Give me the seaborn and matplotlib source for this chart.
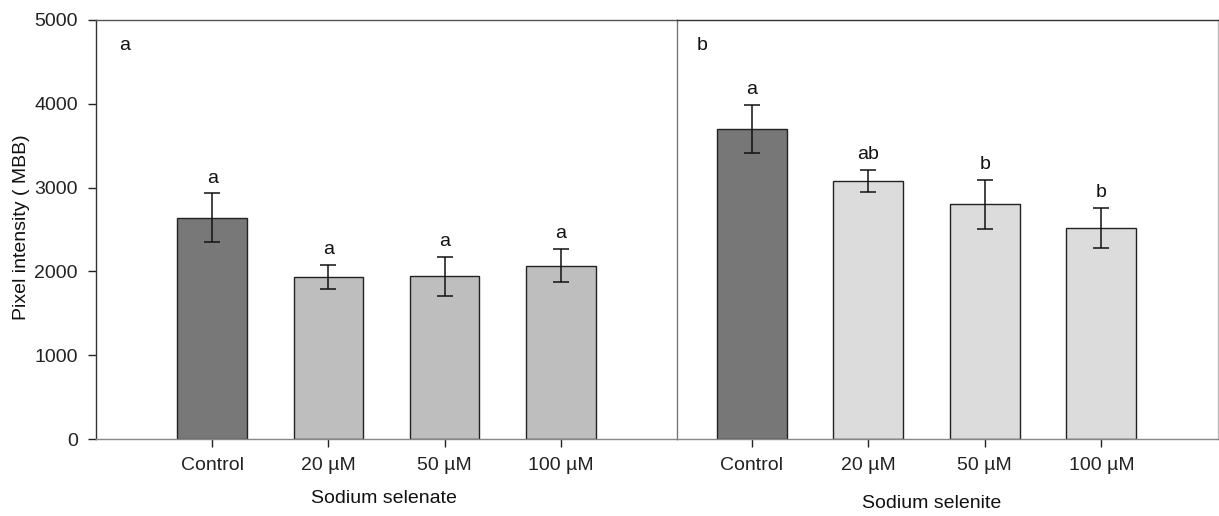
import matplotlib
matplotlib.use("Agg")
import matplotlib.pyplot as plt
import seaborn as sns
import numpy as np

categories = ["Control", "20 µM", "50 µM", "100 µM"]
selenate_mean = [2640, 1930, 1940, 2070]
selenate_se = [290, 145, 235, 195]
selenate_letters = ["a", "a", "a", "a"]
selenite_mean = [3700, 3080, 2800, 2520]
selenite_se = [285, 135, 295, 240]
selenite_letters = ["a", "ab", "b", "b"]
yticks = [0, 1000, 2000, 3000, 4000, 5000]

sns.set_theme(style="white")
plt.rcParams['font.family'] = ['Liberation Sans', 'DejaVu Sans']

FS = 14
W, H = 1219, 516
fig = plt.figure(figsize=(W / 100, H / 100), dpi=100)
fig.patch.set_facecolor("white")

def px(x0, y_top, x1, y_bot):
    return [x0 / W, 1 - y_bot / H, (x1 - x0) / W, (y_bot - y_top) / H]

axL = fig.add_axes(px(96, 20, 677, 439))
axR = fig.add_axes(px(677, 20, 1218, 439))

def panel(ax, means, ses, letters, colors, xlim, xlabel, label, label_xy):
    sns.barplot(x=categories, y=means, hue=categories, palette=colors, legend=False,
                ax=ax, width=0.6, edgecolor="#222222", linewidth=1.0, errorbar=None,
                saturation=1)
    ax.errorbar(np.arange(len(means)), means, yerr=ses, fmt="none", ecolor="#111111",
                elinewidth=1.1, capsize=6, capthick=1.1)
    for i, (m, s, l) in enumerate(zip(means, ses, letters)):
        ax.text(i, m + s + 80, l, ha="center", va="bottom", fontsize=FS, color="#111111")
    ax.set_xlim(*xlim)
    ax.set_ylim(0, 5000)
    ax.set_yticks(yticks)
    ax.set_xlabel(xlabel, fontsize=FS, color="#111111")
    ax.xaxis.set_label_coords(*label_xy)
    ax.xaxis.label.set_va("center")
    ax.tick_params(axis="x", direction="out", length=6, width=1, colors="#222222",
                   labelsize=FS, pad=7, bottom=True)
    ax.text(0.04 if label == "a" else 0.037, 0.94, label, transform=ax.transAxes,
            fontsize=FS, color="#111111", ha="left", va="center")
    ax.set_facecolor("white")

panel(axL, selenate_mean, selenate_se, selenate_letters,
      ["#787878", "#bebebe", "#bebebe", "#bebebe"], (-1, 4), "Sodium selenate", "a",
      (0.4957, -0.143))
panel(axR, selenite_mean, selenite_se, selenite_letters,
      ["#777777", "#dcdcdc", "#dcdcdc", "#dcdcdc"], (-0.64, 4.0), "Sodium selenite", "b",
      (0.471, -0.153))

axL.set_ylabel("Pixel intensity ( MBB)", fontsize=FS, color="#111111")
axL.yaxis.set_label_coords(-0.129, 0.506)
axL.yaxis.label.set_va("center")
axL.tick_params(axis="y", direction="out", length=6, width=1, colors="#222222",
                labelsize=FS, pad=7, left=True)
axR.set_ylabel("")
axR.tick_params(axis="y", left=False, labelleft=False)

for ax in (axL, axR):
    for s in ax.spines.values():
        s.set_linewidth(1.0)
    ax.spines["top"].set_color("#555555")
    ax.spines["bottom"].set_color("#888888")
axL.spines["left"].set_color("#333333")
axL.spines["right"].set_visible(False)
axR.spines["left"].set_color("#777777")
axR.spines["right"].set_color("#bbbbbb")
axR.spines["top"].set_color("#333333")

fig.savefig("out.png", dpi=100, facecolor="white")
